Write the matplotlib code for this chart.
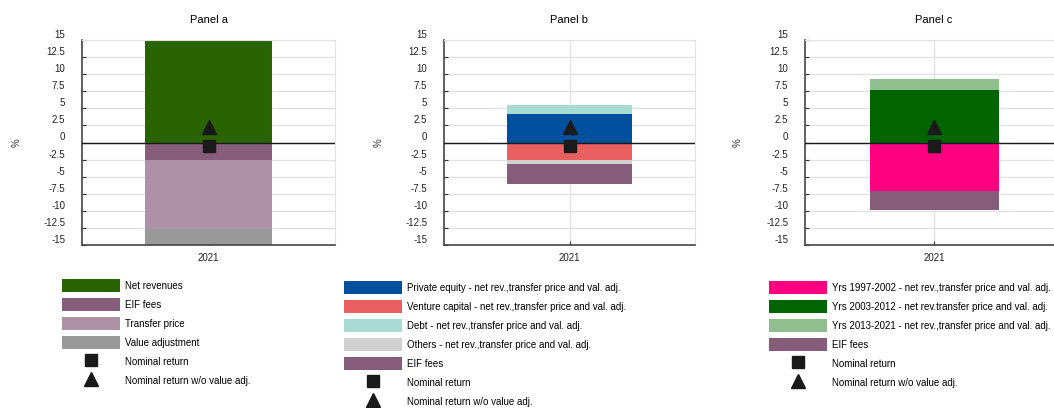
import numpy as np
import matplotlib
matplotlib.use("Agg")
import matplotlib.pyplot as plt
from matplotlib.patches import Patch
from matplotlib.lines import Line2D

plt.rcParams['font.family'] = ['Liberation Sans', 'DejaVu Sans']

YEAR = "2021"
NOMINAL = -0.5
NOMINAL_WO_VA = 2.3

# panel a
a_labels = ["Net revenues", "EIF fees", "Transfer price", "Value adjustment"]
a_values = [15.0, -2.6, -10.1, -4.0]
a_colors = ["#2a6400", "#875d7c", "#ae91a6", "#999999"]

# panel b
b_labels = ["Private equity - net rev.,transfer price and val. adj.",
            "Venture capital - net rev.,transfer price and val. adj.",
            "Debt - net rev.,transfer price and val. adj.",
            "Others - net rev.,transfer price and val. adj.",
            "EIF fees"]
b_values = [4.1, -2.5, 1.4, -0.7, -2.8]
b_colors = ["#00509e", "#ea5f5f", "#a9dbd5", "#d0d0d0", "#855d7b"]

# panel c
c_labels = ["Yrs 1997-2002 - net rev.,transfer price and val. adj.",
            "Yrs 2003-2012 - net rev.transfer price and val. adj.",
            "Yrs 2013-2021 - net rev.,transfer price and val. adj.",
            "EIF fees"]
c_values = [-7.1, 7.75, 1.6, -2.8]
c_colors = ["#ff0080", "#006400", "#90be8e", "#855d7b"]

W, H = 1054, 408
fig = plt.figure(figsize=(W / 100, H / 100), dpi=100)

panels = [
    ("Panel a", a_labels, a_values, a_colors, [82, 253], [62, 279]),
    ("Panel b", b_labels, b_values, b_colors, [444, 251], [344, 281]),
    ("Panel c", c_labels, c_values, c_colors, [805, 258], [769, 281]),
]

for title, labels, values, colors, (x0, w), (lx, ly) in panels:
    ax = fig.add_axes([x0 / W, 1 - 245 / H, w / W, 205 / H])
    pos, neg = 0.0, 0.0
    for v, col in zip(values, colors):
        if v >= 0:
            ax.bar(0, v, width=1.0, bottom=pos, color=col, zorder=2)
            pos += v
        else:
            ax.bar(0, v, width=1.0, bottom=neg, color=col, zorder=2)
            neg += v
    ax.plot(0, NOMINAL, marker='s', ms=8, color='#1a1a1a', ls='none', zorder=4)
    ax.plot(0, NOMINAL_WO_VA, marker='^', ms=10, color='#1a1a1a', ls='none', zorder=4)
    ax.axhline(0, color='#1a1a1a', lw=1, zorder=3)

    ax.set_xlim(-1, 1)
    ax.set_ylim(-15, 15)
    ax.set_yticks(np.arange(-15, 15.1, 2.5))
    ax.set_yticklabels([f"{t:g}" for t in np.arange(-15, 15.1, 2.5)])
    ax.set_xticks([0])
    ax.set_xticklabels([YEAR])
    for lab in ax.get_yticklabels():
        lab.set_va('bottom')
    ax.tick_params(axis='y', direction='in', length=3, pad=12, labelsize=7,
                   colors='#333333', labelcolor='#222222')
    ax.tick_params(axis='x', direction='in', length=3, pad=6, labelsize=7,
                   colors='#333333', labelcolor='#222222')
    ax.grid(True, color='#e2e2e2', lw=1, zorder=0)
    ax.set_axisbelow(True)
    for s in ['top', 'right']:
        ax.spines[s].set_color('#e2e2e2')
    for s in ['left', 'bottom']:
        ax.spines[s].set_color('#444444')
        ax.spines[s].set_linewidth(1.2)
    ax.set_title(title, fontsize=8, pad=12)
    ax.set_ylabel("%", fontsize=7, color='#333333')
    ax.yaxis.set_label_coords(-0.24, 0.5)

    handles = [Patch(facecolor=c, edgecolor='none') for c in colors]
    handles += [Line2D([], [], marker='s', ms=8, color='#1a1a1a', ls='none'),
                Line2D([], [], marker='^', ms=10, color='#1a1a1a', ls='none')]
    names = list(labels) + ["Nominal return", "Nominal return w/o value adj."]
    fig.legend(handles, names, loc='upper left',
               bbox_to_anchor=(lx / W, 1 - ly / H),
               frameon=False, fontsize=7, handlelength=6.0, handleheight=1.65,
               handletextpad=0.5, labelspacing=0.64, borderpad=0,
               borderaxespad=0)

fig.savefig("out.png", dpi=100)
